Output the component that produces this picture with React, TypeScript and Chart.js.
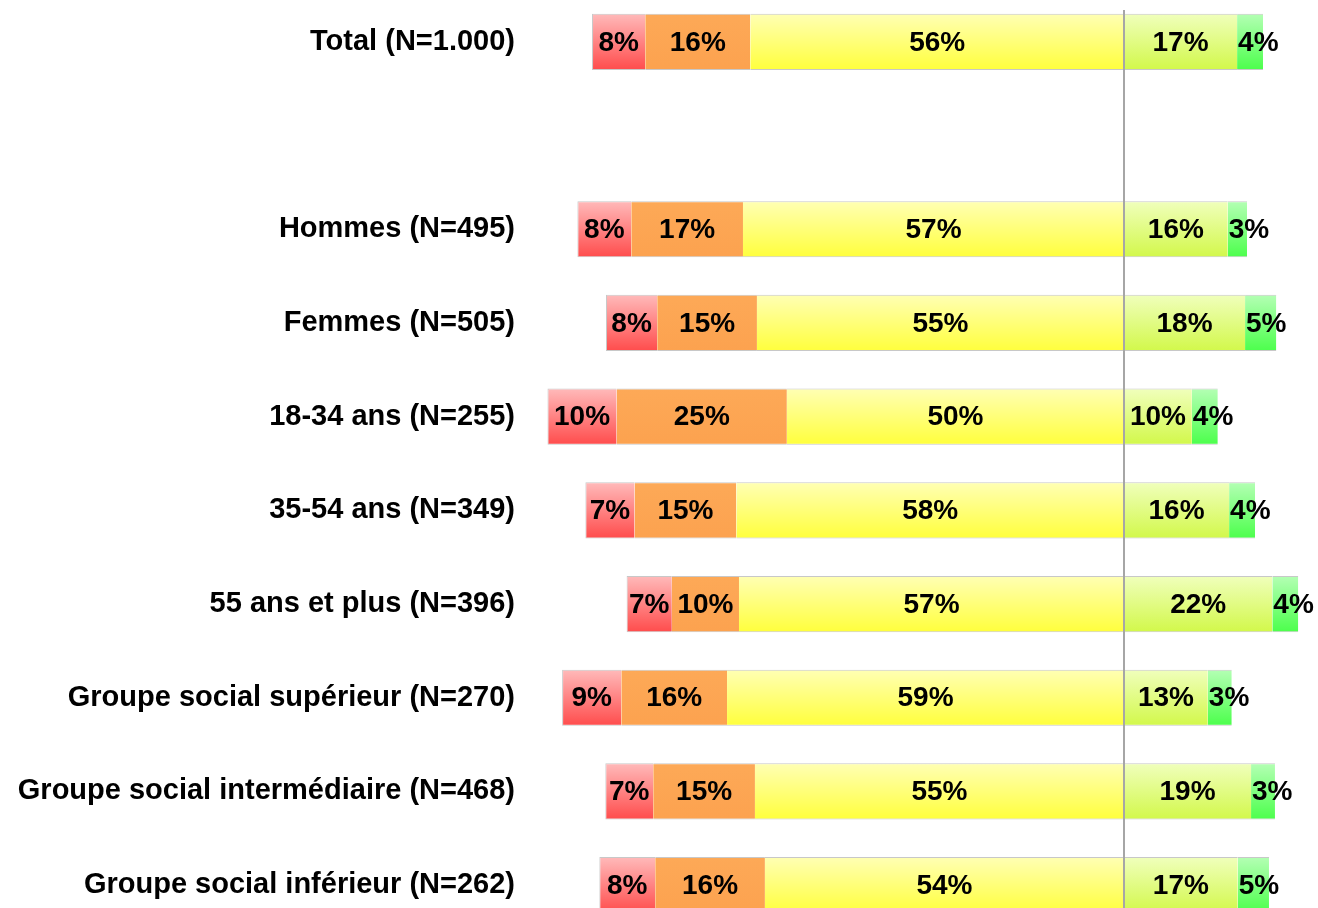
import React, { useEffect, useRef } from "react";
import { Chart, registerables } from "chart.js";

Chart.register(...registerables);

const categories = [
  "Total (N=1.000)",
  "",
  "Hommes (N=495)",
  "Femmes (N=505)",
  "18-34 ans (N=255)",
  "35-54 ans (N=349)",
  "55 ans et plus (N=396)",
  "Groupe social supérieur (N=270)",
  "Groupe social intermédiaire (N=468)",
  "Groupe social inférieur (N=262)",
];

// measured segment widths (in %)
const redValues = [8.0, null, 8.1, 7.7, 10.4, 7.4, 6.8, 8.9, 7.2, 8.4];
const orangeValues = [15.8, null, 16.8, 15.0, 25.6, 15.3, 10.1, 15.9, 15.3, 16.5];
const yellowValues = [56.2, null, 57.3, 55.2, 50.7, 58.3, 57.9, 59.7, 55.5, 54.0];
const lightGreenValues = [17.0, null, 15.6, 18.2, 10.2, 15.8, 22.3, 12.6, 19.1, 17.1];
const greenValues = [3.9, null, 2.9, 4.7, 3.9, 3.9, 3.9, 3.6, 3.6, 4.7];

// displayed labels (in %)
const redLabels = [8, null, 8, 8, 10, 7, 7, 9, 7, 8];
const orangeLabels = [16, null, 17, 15, 25, 15, 10, 16, 15, 16];
const yellowLabels = [56, null, 57, 55, 50, 58, 57, 59, 55, 54];
const lightGreenLabels = [17, null, 16, 18, 10, 16, 22, 13, 19, 17];
const greenLabels = [4, null, 3, 5, 4, 4, 4, 3, 3, 5];

const FONT = '"Liberation Sans", Arial, sans-serif';
const BAR_FRACTION = 0.6;

function gradientFill(top: string, bottom: string) {
  return (ctx: any) => {
    const chart = ctx.chart;
    const area = chart.chartArea;
    if (!area || ctx.type !== "data" || !chart.scales.y) return bottom;
    const yScale = chart.scales.y;
    const cy = yScale.getPixelForValue(ctx.dataIndex);
    const h = (area.height / categories.length) * BAR_FRACTION;
    const g = chart.ctx.createLinearGradient(0, cy - h / 2, 0, cy + h / 2);
    g.addColorStop(0, top);
    g.addColorStop(1, bottom);
    return g;
  };
}

const neg = (arr: (number | null)[]) => arr.map((v) => (v == null ? null : -v));

const zeroLinePlugin = {
  id: "zeroLine",
  afterDatasetsDraw(chart: any) {
    const { ctx, scales } = chart;
    const x = Math.round(scales.x.getPixelForValue(0));
    ctx.save();
    ctx.strokeStyle = "#a6a6a6";
    ctx.lineWidth = 2;
    ctx.beginPath();
    ctx.moveTo(x, 15);
    ctx.lineTo(x, chart.height);
    ctx.stroke();
    ctx.restore();
  },
};

const valueLabelPlugin = {
  id: "valueLabels",
  afterDatasetsDraw(chart: any) {
    const { ctx } = chart;
    ctx.save();
    ctx.font = `bold 28px ${FONT}`;
    ctx.fillStyle = "#000000";
    ctx.textBaseline = "middle";
    chart.data.datasets.forEach((ds: any, di: number) => {
      const meta = chart.getDatasetMeta(di);
      meta.data.forEach((el: any, i: number) => {
        const lbl = ds.displayLabels[i];
        if (lbl == null) return;
        const { x, base, y } = el.getProps(["x", "base", "y"], true);
        const left = Math.min(x, base);
        const right = Math.max(x, base);
        const text = `${lbl}%`;
        const tw = ctx.measureText(text).width;
        if (tw > right - left) {
          ctx.textAlign = "left";
          ctx.fillText(text, left + 1, y + 1);
        } else {
          ctx.textAlign = "center";
          ctx.fillText(text, (left + right) / 2, y + 1);
        }
      });
    });
    ctx.restore();
  },
};

export default function App() {
  const canvasRef = useRef<HTMLCanvasElement | null>(null);

  useEffect(() => {
    if (!canvasRef.current) return;
    const common = {
      borderColor: "#c8c8c8",
      borderSkipped: false,
      barPercentage: 0.75,
      categoryPercentage: 0.8,
      stack: "s",
    };
    const mid = { top: 1, bottom: 1, left: 0, right: 0 };
    const chart = new Chart(canvasRef.current, {
      type: "bar",
      data: {
        labels: categories,
        datasets: [
          {
            ...common,
            label: "yellow",
            data: neg(yellowValues),
            displayLabels: yellowLabels,
            backgroundColor: gradientFill("#ffffb4", "#ffff3c"),
            borderWidth: mid,
          } as any,
          {
            ...common,
            label: "orange",
            data: neg(orangeValues),
            displayLabels: orangeLabels,
            backgroundColor: gradientFill("#fda957", "#fca24f"),
            borderWidth: mid,
          } as any,
          {
            ...common,
            label: "red",
            data: neg(redValues),
            displayLabels: redLabels,
            backgroundColor: gradientFill("#ffbaba", "#ff4c4c"),
            borderWidth: { top: 1, bottom: 1, left: 1, right: 0 },
          } as any,
          {
            ...common,
            label: "lightgreen",
            data: lightGreenValues,
            displayLabels: lightGreenLabels,
            backgroundColor: gradientFill("#f0ffbc", "#d2f84a"),
            borderWidth: mid,
          } as any,
          {
            ...common,
            label: "green",
            data: greenValues,
            displayLabels: greenLabels,
            backgroundColor: gradientFill("#b4ffb4", "#4cff4c"),
            borderWidth: mid,
          } as any,
        ],
      },
      options: {
        indexAxis: "y",
        animation: false,
        responsive: true,
        maintainAspectRatio: false,
        layout: { padding: 0 },
        plugins: {
          legend: { display: false },
          tooltip: { enabled: false },
          title: { display: false },
        },
        scales: {
          x: {
            type: "linear",
            stacked: true,
            display: false,
            min: -90.08,
            max: 29.17,
          },
          y: {
            type: "category",
            stacked: true,
            offset: true,
            grid: { display: false, drawTicks: false },
            border: { display: false },
            ticks: {
              padding: 10,
              color: "#000000",
              font: { family: FONT, size: 29, weight: "bold" },
              autoSkip: false,
            },
            afterFit(scale: any) {
              scale.width = 525;
              scale.paddingTop = 0;
              scale.paddingBottom = 0;
            },
          },
        },
      } as any,
      plugins: [zeroLinePlugin, valueLabelPlugin],
    });
    return () => chart.destroy();
  }, []);

  return (
    <div
      style={{
        position: "fixed",
        top: 0,
        left: 0,
        width: 1318,
        height: 908,
        overflow: "hidden",
        background: "#ffffff",
      }}
    >
      <div style={{ position: "absolute", top: -5, left: 0, width: 1318, height: 937 }}>
        <canvas ref={canvasRef} />
      </div>
    </div>
  );
}
